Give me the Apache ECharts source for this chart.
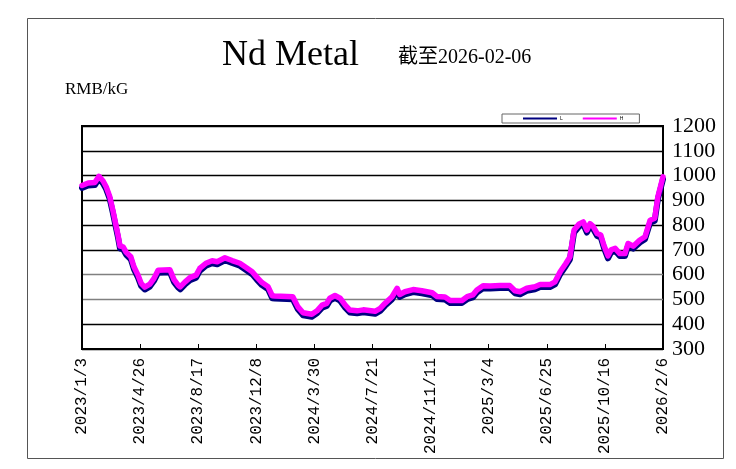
<!DOCTYPE html>
<html>
<head>
<meta charset="utf-8">
<script src="https://cdn.jsdelivr.net/npm/echarts@6/dist/echarts.min.js"></script>
<style>
  html, body { margin: 0; padding: 0; background: #fff; }
  #main { width: 736px; height: 469px; }
</style>
</head>
<body>
<div id="main"></div>
<script>
// days counted from 2023/1/3
var dayOffsets = [0,12,25,33,41,47,54,60,66,70,
  74,80,86,95,101,109,115,122,132,140,
  148,171,179,187,191,200,210,222,229,241,
  253,263,278,292,307,317,331,340,350,362,
  370,375,410,420,430,447,457,467,476,482,
  492,502,512,521,535,547,570,580,589,603,
  613,618,628,644,661,681,690,706,716,739,
  749,760,768,780,794,813,832,842,852,865,
  881,891,910,920,930,941,949,957,967,975,
  982,988,994,1002,1009,1015,1023,1029,1037,1046,
  1056,1062,1072,1085,1095,1105,1114,1120,1130];

var highValues = [960,970,972,997,978,955,915,860,800,760,
  715,712,690,672,632,598,565,550,562,585,
  618,620,580,558,551,570,588,598,625,646,
  656,652,668,657,646,632,612,590,568,551,
  515,514,511,470,446,440,454,477,484,505,
  516,505,477,457,454,458,452,464,484,511,
  545,520,531,540,535,527,512,510,496,496,
  511,518,538,555,554,556,556,535,531,545,
  551,560,560,571,612,645,672,780,805,813,
  780,806,795,766,760,719,676,700,706,685,
  685,726,715,740,753,820,828,914,995];

var lowValues = [950,960,962,987,968,945,905,850,790,750,
  705,702,680,662,622,588,555,540,552,575,
  608,610,570,548,541,560,578,588,615,636,
  646,642,658,647,636,622,602,580,558,541,
  505,504,501,460,436,430,444,467,474,495,
  506,495,467,447,444,448,442,454,474,501,
  535,510,521,530,525,517,502,500,486,486,
  501,508,528,545,544,546,546,525,521,535,
  541,550,550,561,602,635,662,770,795,803,
  770,796,785,756,750,709,666,690,696,675,
  675,716,705,730,743,810,818,904,985];

var seriesNames = ['L', 'H'];
var yTicks = { min: 300, max: 1200, step: 100 };
var xTicks = { min: 0, max: 1130, step: 113 };

function dayLabel (v) {
  var d = new Date(Date.UTC(2023, 0, 3) + v * 86400000);
  return d.getUTCFullYear() + '/' + (d.getUTCMonth() + 1) + '/' + d.getUTCDate();
}

function pairs (vals) {
  return dayOffsets.map(function (d, i) { return [d, vals[i]]; });
}

var myChart = echarts.init(document.getElementById('main'));

var serifFont = '"Liberation Serif", "Noto Sans CJK JP", serif';

var option = {
  animation: false,
  backgroundColor: '#fff',
  graphic: [
    {
      type: 'rect',
      shape: { x: 27.5, y: 18.5, width: 696, height: 440 },
      style: { fill: 'none', stroke: '#555', lineWidth: 1 }
    },
    {
      type: 'text', left: 222, top: 38,
      style: { text: 'Nd Metal', font: '36px ' + serifFont, fill: '#000' }
    },
    {
      type: 'text', left: 398, top: 48,
      style: { text: '截至2026-02-06', font: '20px ' + serifFont, fill: '#000' }
    },
    {
      type: 'text', left: 65, top: 81,
      style: { text: 'RMB/kG', font: '17px ' + serifFont, fill: '#000' }
    }
  ],
  legend: {
    data: seriesNames,
    left: 502,
    top: 114,
    padding: [2, 16, 2, 21],
    itemGap: 20,
    itemWidth: 34,
    itemHeight: 2,
    icon: 'rect',
    borderColor: '#666',
    borderWidth: 1,
    backgroundColor: '#fff',
    textStyle: { fontSize: 5, color: '#000', padding: [0, 0, 0, -2] }
  },
  grid: {
    left: 82,
    right: 73,
    top: 126,
    bottom: 120,
    show: true,
    borderColor: '#000',
    borderWidth: 2
  },
  xAxis: {
    type: 'value',
    min: xTicks.min,
    max: xTicks.max,
    interval: xTicks.step,
    axisLine: { lineStyle: { color: '#000', width: 2 } },
    axisTick: { inside: true, length: 5, lineStyle: { color: '#000' } },
    splitLine: { show: false },
    axisLabel: {
      rotate: 90,
      margin: 9,
      color: '#000',
      fontFamily: '"Liberation Mono", monospace',
      fontSize: 16,
      formatter: dayLabel
    }
  },
  yAxis: {
    type: 'value',
    position: 'right',
    min: yTicks.min,
    max: yTicks.max,
    interval: yTicks.step,
    axisLine: { show: true, lineStyle: { color: '#000', width: 2 } },
    axisTick: { show: false },
    splitLine: {
      lineStyle: {
        color: ['#000', '#000', '#808080', '#808080', '#000', '#000', '#000', '#000', '#000', '#000'],
        width: 1.3
      }
    },
    axisLabel: {
      margin: 9,
      color: '#000',
      fontFamily: serifFont,
      fontSize: 22,
      formatter: function (v) { return String(v); }
    }
  },
  series: [
    {
      name: seriesNames[0],
      type: 'line',
      data: pairs(lowValues),
      showSymbol: false,
      color: '#000080',
      lineStyle: { width: 6, color: '#000080', cap: 'round', join: 'round' }
    },
    {
      name: seriesNames[1],
      type: 'line',
      data: pairs(highValues),
      showSymbol: false,
      color: '#ff00ff',
      lineStyle: { width: 5.5, color: '#ff00ff', cap: 'round', join: 'round' }
    }
  ]
};

myChart.setOption(option);
</script>
</body>
</html>
